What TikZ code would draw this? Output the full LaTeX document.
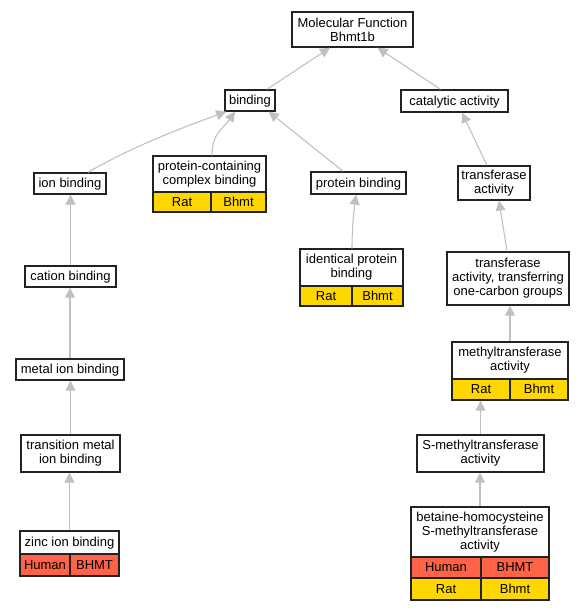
\documentclass[tikz,border=0pt]{standalone}
\usepackage{fontspec}
\setmainfont{Liberation Sans}
\usetikzlibrary{arrows.meta,calc}
\newdimen\pxu \pxu=0.75pt
\definecolor{edgegray}{HTML}{C0C0C0}
\definecolor{ratgold}{HTML}{FFD700}
\definecolor{humanred}{HTML}{FF6347}
\definecolor{boxline}{HTML}{222222}
\begin{document}
\begin{tikzpicture}[x=0.75pt,y=-0.75pt,
  box/.style={draw=boxline, line width=1pt, fill=white, rectangle, inner sep=0pt, align=center,
    font=\fontsize{9.75}{10.4}\selectfont},
  one/.style={text height=8.8pt, text depth=2.1pt},
  sz/.style 2 args={minimum width=#1\pxu, minimum height=#2\pxu},
  rat/.style={box, one, fill=ratgold},
  human/.style={box, one, fill=humanred},
  edge/.style={draw=edgegray, line width=0.8pt, -{Triangle[length=7.5pt,width=7.5pt]}}]
\useasboundingbox (0,0) rectangle (588,611);
\fill[white] (0,0) rectangle (588,611);

% nodes
\node[box, sz={121}{35}] (mf) at (352.5,29.5) {Molecular Function\\Bhmt1b};
\node[box, one, sz={50}{21}] (b) at (250,100.5) {binding};
\node[box, one, sz={107}{22}] (cat) at (454.5,101) {catalytic activity};
\node[box, one, sz={72}{21}] (ion) at (70,183.5) {ion binding};

\node[box, sz={113}{36}] (pcb) at (209.5,174) {protein-containing\\complex binding};
\node[rat, sz={58}{20}] (pcbA) at (182,202) {Rat};
\node[rat, sz={55}{20}] (pcbB) at (238.5,202) {Bhmt};

\node[box, one, sz={95}{22}] (pb) at (358.5,183) {protein binding};
\node[box, sz={72}{34}] (tr) at (494,183) {transferase\\activity};
\node[box, one, sz={91}{21}] (cion) at (70.5,276.5) {cation binding};

\node[box, sz={103}{37}] (ipb) at (351.5,267.5) {identical protein\\binding};
\node[rat, sz={52}{20}] (ipbA) at (326,296) {Rat};
\node[rat, sz={51}{20}] (ipbB) at (377.5,296) {Bhmt};

\node[box, sz={122}{53}] (oc) at (508,278.5) {transferase\\activity, transferring\\one-carbon groups};
\node[box, one, sz={108}{21}] (metal) at (70,369.5) {metal ion binding};

\node[box, sz={116}{37}] (mt) at (510,360.5) {methyltransferase\\activity};
\node[rat, sz={58}{21}] (mtA) at (481,389.5) {Rat};
\node[rat, sz={58}{21}] (mtB) at (539,389.5) {Bhmt};

\node[box, sz={99}{37}] (trm) at (70.5,453.5) {transition metal\\ion binding};
\node[box, sz={127}{37}] (smt) at (480.5,453.5) {S-methyltransferase\\activity};

\node[box, one, sz={99}{23}] (zinc) at (69.5,542.5) {zinc ion binding};
\node[human, sz={50}{22}] (zincA) at (45,565) {Human};
\node[human, sz={49}{22}] (zincB) at (94.5,565) {BHMT};

\node[box, sz={138}{50}] (bh) at (480,532) {betaine-homocysteine\\S-methyltransferase\\activity};
\node[human, sz={70}{21}] (bhA) at (446,567.5) {Human};
\node[human, sz={68}{21}] (bhB) at (515,567.5) {BHMT};
\node[rat, sz={70}{22}] (bhC) at (446,589) {Rat};
\node[rat, sz={68}{22}] (bhD) at (515,589) {Bhmt};

% edges
\draw[edge] ($(b.north)+(17,0)$) -- ($(mf.south)+(-22.5,0)$);
\draw[edge] ($(cat.north)+(-14,0)$) -- ($(mf.south)+(25,0)$);
\draw[edge] ($(ion.north)+(18,0)$) .. controls +(43,-25) and +(-47,17) .. ($(b.south west)+(2,0)$);
\draw[edge] ($(pcb.north)+(2.5,0)$) .. controls +(0,-22) and +(-12,17) .. ($(b.south)+(-15,0)$);
\draw[edge] ($(pb.north)+(-15.5,0)$) -- ($(b.south east)+(-7,0)$);
\draw[edge] ($(tr.north)+(-7,0)$) -- ($(cat.south)+(7.5,0)$);
\draw[edge] ($(oc.north)+(-1,0)$) -- ($(tr.south)+(5,0)$);
\draw[edge] ($(ipb.north)+(0.5,0)$) .. controls +(0,-20) and +(-2,15) .. ($(pb.south)+(-2.5,0)$);
\draw[edge] (cion.north) -- (cion.north |- ion.south);
\draw[edge] (metal.north) -- (metal.north |- cion.south);
\draw[edge] (trm.north) -- (trm.north |- metal.south);
\draw[edge] (zinc.north) -- (zinc.north |- trm.south);
\draw[edge] (mt.north) -- ($(oc.south)+(2,0)$);
\draw[edge] (smt.north) -- (smt.north |- mtA.south);
\draw[edge] (bh.north) -- (bh.north |- smt.south);
\end{tikzpicture}
\end{document}
